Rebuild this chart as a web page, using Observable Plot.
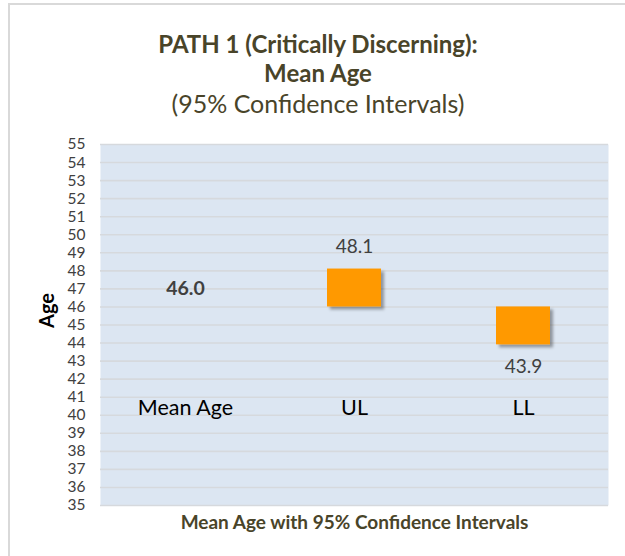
<!DOCTYPE html>
<html><head><meta charset="utf-8">
<script src="https://cdn.jsdelivr.net/npm/d3@7"></script>
<script src="https://cdn.jsdelivr.net/npm/@observablehq/plot@0.6"></script>
<style>
body{margin:0;background:#fff;}
#wrap{position:relative;width:625px;height:556px;overflow:hidden;font-family:Lato,sans-serif;}
#border{position:absolute;left:8px;top:3px;right:-10px;bottom:-10px;border-top:2px solid #d9d9d9;border-left:2px solid #d9d9d9;}
.t{position:absolute;left:8px;width:620px;text-align:center;color:#494429;white-space:nowrap;}
#chart{position:absolute;left:0;top:125px;}
</style></head><body>
<div id="wrap">
<div id="border"></div>
<div class="t" style="top:29.5px;font-size:24px;line-height:28.8px;font-weight:bold">PATH 1 (Critically Discerning):</div>
<div class="t" style="top:58.6px;font-size:24px;line-height:28.8px;font-weight:bold">Mean Age</div>
<div class="t" style="top:88px;font-size:25px;line-height:30px;">(95% Confidence Intervals)</div>
<div id="chart"></div>
</div>
<script>
const categories = ["Mean Age", "UL", "LL"];
const values = [46.0, 48.1, 43.9];
const valueLabels = ["46.0", "48.1", "43.9"];
const meanAge = 46.0;
const yTicks = [35,36,37,38,39,40,41,42,43,44,45,46,47,48,49,50,51,52,53,54,55];
const yTitle = "Age";
const xTitle = "Mean Age with 95% Confidence Intervals";

const rows = categories.map((c, i) => ({cat: c, value: values[i], label: valueLabels[i]}));
const bars = rows.filter(d => d.cat !== "Mean Age").map(d => ({cat: d.cat, y1: meanAge, y2: d.value}));

const svg = Plot.plot({
  width: 625,
  height: 431,
  marginTop: 19,
  marginBottom: 51,
  marginLeft: 100,
  marginRight: 17,
  style: {fontFamily: "Lato, sans-serif", background: "transparent"},
  x: {domain: categories, paddingInner: 0.68, paddingOuter: 0.34, axis: null},
  y: {domain: [35, 55], axis: null},
  marks: [
    Plot.frame({fill: "#dce6f2", stroke: "none"}),
    Plot.gridY(yTicks, {stroke: "#d6d9dd", strokeWidth: 1.6, strokeOpacity: 1}),
    Plot.barY(bars, {x: "cat", y1: "y1", y2: "y2", fill: "#ff9900"}),
    Plot.text(rows.filter(d => d.cat === "Mean Age"), {x: "cat", y: "value", text: "label", dy: -18, fontSize: 19.5, fontWeight: "bold", fill: "#404040"}),
    Plot.text(rows.filter(d => d.cat === "UL"), {x: "cat", y: "value", text: "label", dy: -22, fontSize: 19, fill: "#404040"}),
    Plot.text(rows.filter(d => d.cat === "LL"), {x: "cat", y: "value", text: "label", dy: 22, fontSize: 19, fill: "#404040"}),
    Plot.axisY(yTicks, {tickSize: 0, tickPadding: 15, fontSize: 15.5, fill: "#404040", label: null}),
    Plot.axisX({tickSize: 0, dy: -115, fontSize: 21.5, fill: "#000", label: null}),
    Plot.text([yTitle], {frameAnchor: "left", dx: -53, dy: 3, rotate: -90, fontSize: 20, fontWeight: "bold", fill: "#000"}),
    Plot.text([xTitle], {frameAnchor: "bottom", dy: 23, fontSize: 19, fontWeight: "bold", fill: "#494429"})
  ]
});

const defs = d3.select(svg).insert("defs", ":first-child");
defs.append("filter").attr("id", "sh").attr("x", "-10%").attr("y", "-10%").attr("width", "130%").attr("height", "130%")
  .html('<feDropShadow dx="3" dy="3" stdDeviation="1.8" flood-color="#000" flood-opacity="0.35"/>');
d3.select(svg).selectAll('g[aria-label="frame"], g[aria-label="bar"]').attr("filter", "url(#sh)");

document.getElementById("chart").appendChild(svg);
</script>
</body></html>
